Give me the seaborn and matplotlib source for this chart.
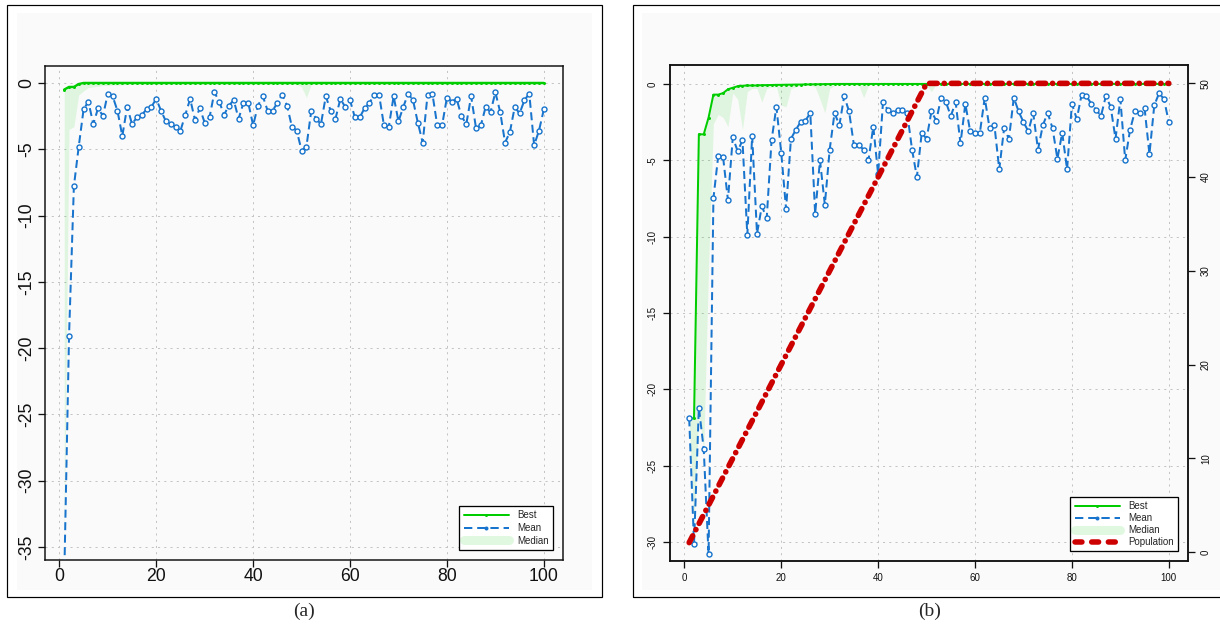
import numpy as np
import matplotlib
matplotlib.use("Agg")
import matplotlib.pyplot as plt
import seaborn as sns
from matplotlib.lines import Line2D
from matplotlib.patches import Rectangle

# generations 1..100
generation = np.arange(1, 101)

# ---- panel (a) ----
best_a = [-0.5, -0.3, -0.3, -0.08] + [0.0] * 96
mean_a = [
    -37.5, -19.1, -7.8, -4.8, -2.0, -1.4, -3.1, -1.9, -2.5, -0.8,
    -1.0, -2.1, -4.0, -1.8, -3.1, -2.6, -2.4, -2.0, -1.8, -1.2,
    -2.1, -2.9, -3.1, -3.3, -3.6, -2.4, -1.2, -2.8, -1.9, -3.0,
    -2.6, -0.7, -1.4, -2.4, -1.7, -1.3, -2.7, -1.5, -1.5, -3.2,
    -1.7, -1.0, -2.1, -2.1, -1.5, -0.9, -1.7, -3.3, -3.6, -5.1,
    -4.8, -2.1, -2.7, -3.1, -1.0, -2.1, -2.7, -1.2, -1.8, -1.3,
    -2.6, -2.6, -1.9, -1.5, -0.9, -0.9, -3.2, -3.3, -1.0, -2.9,
    -1.8, -0.8, -1.3, -3.0, -4.5, -0.9, -0.8, -3.2, -3.2, -1.1,
    -1.4, -1.2, -2.5, -3.1, -1.0, -3.4, -3.2, -1.8, -2.2, -0.7,
    -2.2, -4.5, -3.7, -1.8, -2.3, -1.3, -0.8, -4.7, -3.6, -2.0,
]
median_a = [
    -34.6, -3.5, -3.3, -0.9, -0.6, -0.35, -0.3, -0.25, -0.2, -0.2,
    -0.15, -0.15, -0.15, -0.1, -0.1, -0.1, -0.1, -0.1, -0.1, -0.1,
    -0.1, -0.1, -0.1, -0.1, -0.1, -0.1, -0.1, -0.1, -0.1, -0.1,
    -0.1, -0.1, -0.1, -0.1, -0.1, -0.1, -0.1, -0.1, -0.1, -0.1,
    -0.1, -0.1, -0.1, -0.1, -0.1, -0.1, -0.1, -0.1, -0.1, -0.3,
    -1.1, -0.1, -0.1, -0.1, -0.1, -0.1, -0.1, -0.1, -0.1, -0.1,
    -0.1, -0.1, -0.1, -0.1, -0.1, -0.1, -0.1, -0.1, -0.1, -0.1,
    -0.1, -0.1, -0.1, -0.1, -0.1, -0.1, -0.1, -0.1, -0.1, -0.1,
    -0.1, -0.1, -0.1, -0.1, -0.1, -0.1, -0.1, -0.1, -0.1, -0.1,
    -0.1, -0.1, -0.1, -0.1, -0.1, -0.1, -0.1, -0.1, -0.1, -0.1,
]

# ---- panel (b) ----
best_b = [
    -21.9, -21.9, -3.3, -3.3, -2.2, -0.7, -0.7, -0.6, -0.35, -0.25,
    -0.15, -0.12, -0.1, -0.1, -0.1, -0.08, -0.08, -0.07, -0.06, -0.06,
    -0.05, -0.05, -0.04, -0.04, -0.03, -0.03, -0.02, -0.02, -0.01, -0.01,
] + [0.0] * 70
mean_b = [
    -21.9, -30.1, -21.2, -23.9, -30.8, -7.5, -4.7, -4.8, -7.6, -3.5,
    -4.4, -3.7, -9.9, -3.4, -9.8, -8.0, -8.8, -3.7, -1.5, -4.5,
    -8.2, -3.6, -3.0, -2.5, -2.4, -1.9, -8.5, -5.0, -7.9, -4.3,
    -1.9, -2.7, -0.8, -1.8, -4.0, -4.0, -4.3, -5.0, -2.8, -5.9,
    -1.2, -1.7, -1.9, -1.7, -1.7, -1.9, -4.3, -6.1, -3.2, -3.6,
    -1.8, -2.4, -0.9, -1.2, -2.1, -1.2, -3.9, -1.3, -3.1, -3.2,
    -3.2, -0.9, -2.9, -2.7, -5.6, -2.9, -3.6, -0.9, -1.8, -2.5,
    -3.1, -1.9, -4.3, -2.7, -1.9, -2.9, -4.9, -3.2, -5.6, -1.3,
    -2.3, -0.7, -0.8, -1.3, -1.7, -2.1, -0.8, -1.5, -3.6, -1.0,
    -5.0, -3.0, -1.8, -1.9, -1.6, -4.6, -1.4, -0.6, -1.0, -2.5,
]
median_b = [
    -22.0, -29.0, -21.5, -24.0, -12.0, -2.6, -2.0, -2.2, -2.8, -0.6,
    -1.0, -3.0, -0.5, -0.3, -0.3, -1.2, -0.3, -0.2, -0.2, -1.4,
    -1.5, -0.3, -0.2, -0.1, -0.1, -0.1, -0.2, -1.0, -1.9, -0.3,
    -0.1, -0.1, -0.1, -0.1, -0.1, -0.1, -0.9, -0.1, -0.05, -0.05,
    -0.05, -0.05, -0.05, -0.05, -0.05, -0.05, -0.05, -0.05, -0.05, -0.1,
    -0.5, 0.0, 0.0, 0.0, 0.0, 0.0, 0.0, 0.0, 0.0, 0.0,
    0.0, 0.0, 0.0, 0.0, 0.0, 0.0, 0.0, 0.0, 0.0, 0.0,
    0.0, 0.0, 0.0, 0.0, 0.0, 0.0, 0.0, 0.0, 0.0, 0.0,
    0.0, 0.0, 0.0, 0.0, 0.0, 0.0, 0.0, 0.0, 0.0, 0.0,
    0.0, 0.0, 0.0, 0.0, 0.0, 0.0, 0.0, 0.0, 0.0, 0.0,
]
population_b = [
    1, 2, 3, 4, 5, 6, 7, 8, 9, 10,
    11, 12, 13, 14, 15, 16, 17, 18, 19, 20,
    21, 22, 23, 24, 25, 26, 27, 28, 29, 30,
    31, 32, 33, 34, 35, 36, 37, 38, 39, 40,
    41, 42, 43, 44, 45, 46, 47, 48, 49, 50,
] + [50] * 50

x_ticks = [0, 20, 40, 60, 80, 100]
y_ticks_a = [0, -5, -10, -15, -20, -25, -30, -35]
y_ticks_b = [0, -5, -10, -15, -20, -25, -30]
pop_ticks = [0, 10, 20, 30, 40, 50]

GREEN = "#00CD00"
BLUE = "#1874CD"
RED = "#CD0000"
PX = 0.72  # points per pixel at dpi 100
W, H = 1220, 631

sns.set_theme(style="ticks")
plt.rcParams["font.family"] = ["Liberation Sans", "DejaVu Sans"]
plt.rcParams["lines.scale_dashes"] = False
plt.rcParams["axes.unicode_minus"] = False

fig = plt.figure(figsize=(W / 100, H / 100), dpi=100)


def px_axes(left, top, right, bottom):
    ax = fig.add_axes([left / W, 1 - bottom / H, (right - left) / W, (bottom - top) / H])
    ax.set_facecolor("none")
    return ax


def backdrop(x0, x1, y0, y1):
    # very light grey tone behind each plot image
    fig.add_artist(Rectangle((x0 / W, 1 - y1 / H), (x1 - x0) / W, (y1 - y0) / H,
                             transform=fig.transFigure, fc="#FAFAFA", ec="none", zorder=-3))


def draw_panel(ax, best, mean, median, lw_best, ms_mean):
    ax.fill_between(generation, median, best, color=GREEN, alpha=0.1, lw=0, zorder=1)
    sns.lineplot(x=generation, y=best, ax=ax, color=GREEN, lw=lw_best * PX,
                 marker="o", markersize=3 * PX, mfc=GREEN, mec=GREEN, mew=0, zorder=3)
    sns.lineplot(x=generation, y=mean, ax=ax, color=BLUE, lw=2 * PX,
                 marker="o", markersize=ms_mean * PX, mfc="white", mec=BLUE,
                 mew=1.4 * PX, zorder=4)
    ax.lines[-1].set_dashes([8 * PX, 4.5 * PX])
    ax.grid(True, color="#C4C4C4", lw=1 * PX, linestyle=(0, (1.5, 3)))
    ax.set_axisbelow(True)
    ax.set_xlim(-2.96, 103.96)
    ax.set_xticks(x_ticks)
    ax.set_xlabel("")
    ax.set_ylabel("")
    for s in ax.spines.values():
        s.set_visible(True)
        s.set_linewidth(1.5 * PX)
        s.set_color("#111111")


def legend_handles(with_pop):
    h = [
        Line2D([], [], color=GREEN, lw=2 * PX, marker="o", ms=3 * PX, mew=0),
        Line2D([], [], color=BLUE, lw=2 * PX, ls=(0, (6, 3.5)), marker="o", ms=4 * PX, mew=0),
        Line2D([], [], color=GREEN, alpha=0.12, lw=9 * PX, solid_capstyle="round"),
    ]
    if with_pop:
        h.append(Line2D([], [], color=RED, lw=5.5 * PX, ls=(0, (5, 7)), dash_capstyle="round"))
    return h


backdrop(17, 592, 13, 590)
backdrop(642, 1220, 13, 590)

# ---- (a) ----
ax_a = px_axes(45, 66, 563, 560)
draw_panel(ax_a, best_a, mean_a, median_a, 2.4, 5)
ax_a.set_ylim(-35.98, 1.28)
ax_a.set_yticks(y_ticks_a)
ax_a.tick_params(axis="both", direction="out", length=7 * PX, width=1.3 * PX,
                 labelsize=12.7, colors="#111111")
ax_a.tick_params(axis="x", pad=0.5)
ax_a.tick_params(axis="y", pad=2)
for lab in ax_a.get_yticklabels():
    lab.set_rotation(90)
    lab.set_va("center")
leg = ax_a.legend(legend_handles(False), ["Best", "Mean", "Median"], loc="lower right",
                  fontsize=7, frameon=True, fancybox=False, edgecolor="black", framealpha=1,
                  handlelength=4.6, handletextpad=0.9, labelspacing=0.3, borderaxespad=1.0,
                  borderpad=0.45, numpoints=1)
leg.get_frame().set_linewidth(1.3 * PX)

# ---- (b) ----
ax_b = px_axes(670, 65, 1188, 561)
draw_panel(ax_b, best_b, mean_b, median_b, 2.0, 5)
ax_b.set_ylim(-31.24, 1.24)
ax_b.set_yticks(y_ticks_b)
ax_b.tick_params(axis="both", direction="out", length=7 * PX, width=1.3 * PX,
                 labelsize=7, colors="#111111")
ax_b.tick_params(axis="x", pad=3.6)
ax_b.tick_params(axis="y", pad=4)
for lab in ax_b.get_yticklabels():
    lab.set_rotation(90)
    lab.set_va("center")

ax_p = ax_b.twinx()
ax_p.set_facecolor("none")
sns.lineplot(x=generation, y=population_b, ax=ax_p, color=RED, lw=5.6 * PX, zorder=5)
ax_p.lines[-1].set_dashes([5.5, 5.0, 0.1, 5.0])
ax_p.lines[-1].set_dash_capstyle("round")
ax_p.set_ylim(-0.96, 51.96)
ax_p.set_yticks(pop_ticks)
ax_p.set_ylabel("")
ax_p.grid(False)
ax_p.tick_params(axis="y", direction="out", length=7 * PX, width=1.3 * PX,
                 labelsize=7, colors="#111111", pad=4.3, right=True)
for lab in ax_p.get_yticklabels():
    lab.set_rotation(90)
    lab.set_va("center")
for s in ax_p.spines.values():
    s.set_linewidth(1.5 * PX)
    s.set_color("#111111")
leg = ax_p.legend(legend_handles(True), ["Best", "Mean", "Median", "Population"],
                  loc="lower right", fontsize=7, frameon=True, fancybox=False,
                  edgecolor="black", framealpha=1, handlelength=4.6, handletextpad=0.9,
                  labelspacing=0.2, borderaxespad=1.0, borderpad=0.45, numpoints=1)
leg.get_frame().set_linewidth(1.3 * PX)

# outer frames and captions
for (l, r), cap, cx in [((7, 602), "(a)", 304), ((633, 1227), "(b)", 930)]:
    fig.add_artist(Rectangle((l / W, 1 - 597 / H), (r - l) / W, 592 / H,
                             transform=fig.transFigure, fill=False, ec="black", lw=1.2 * PX))
    fig.text(cx / W, 1 - 611 / H, cap, ha="center", va="center", fontsize=14,
             family=["Liberation Serif", "DejaVu Serif"])

fig.savefig("out.png", dpi=100)
